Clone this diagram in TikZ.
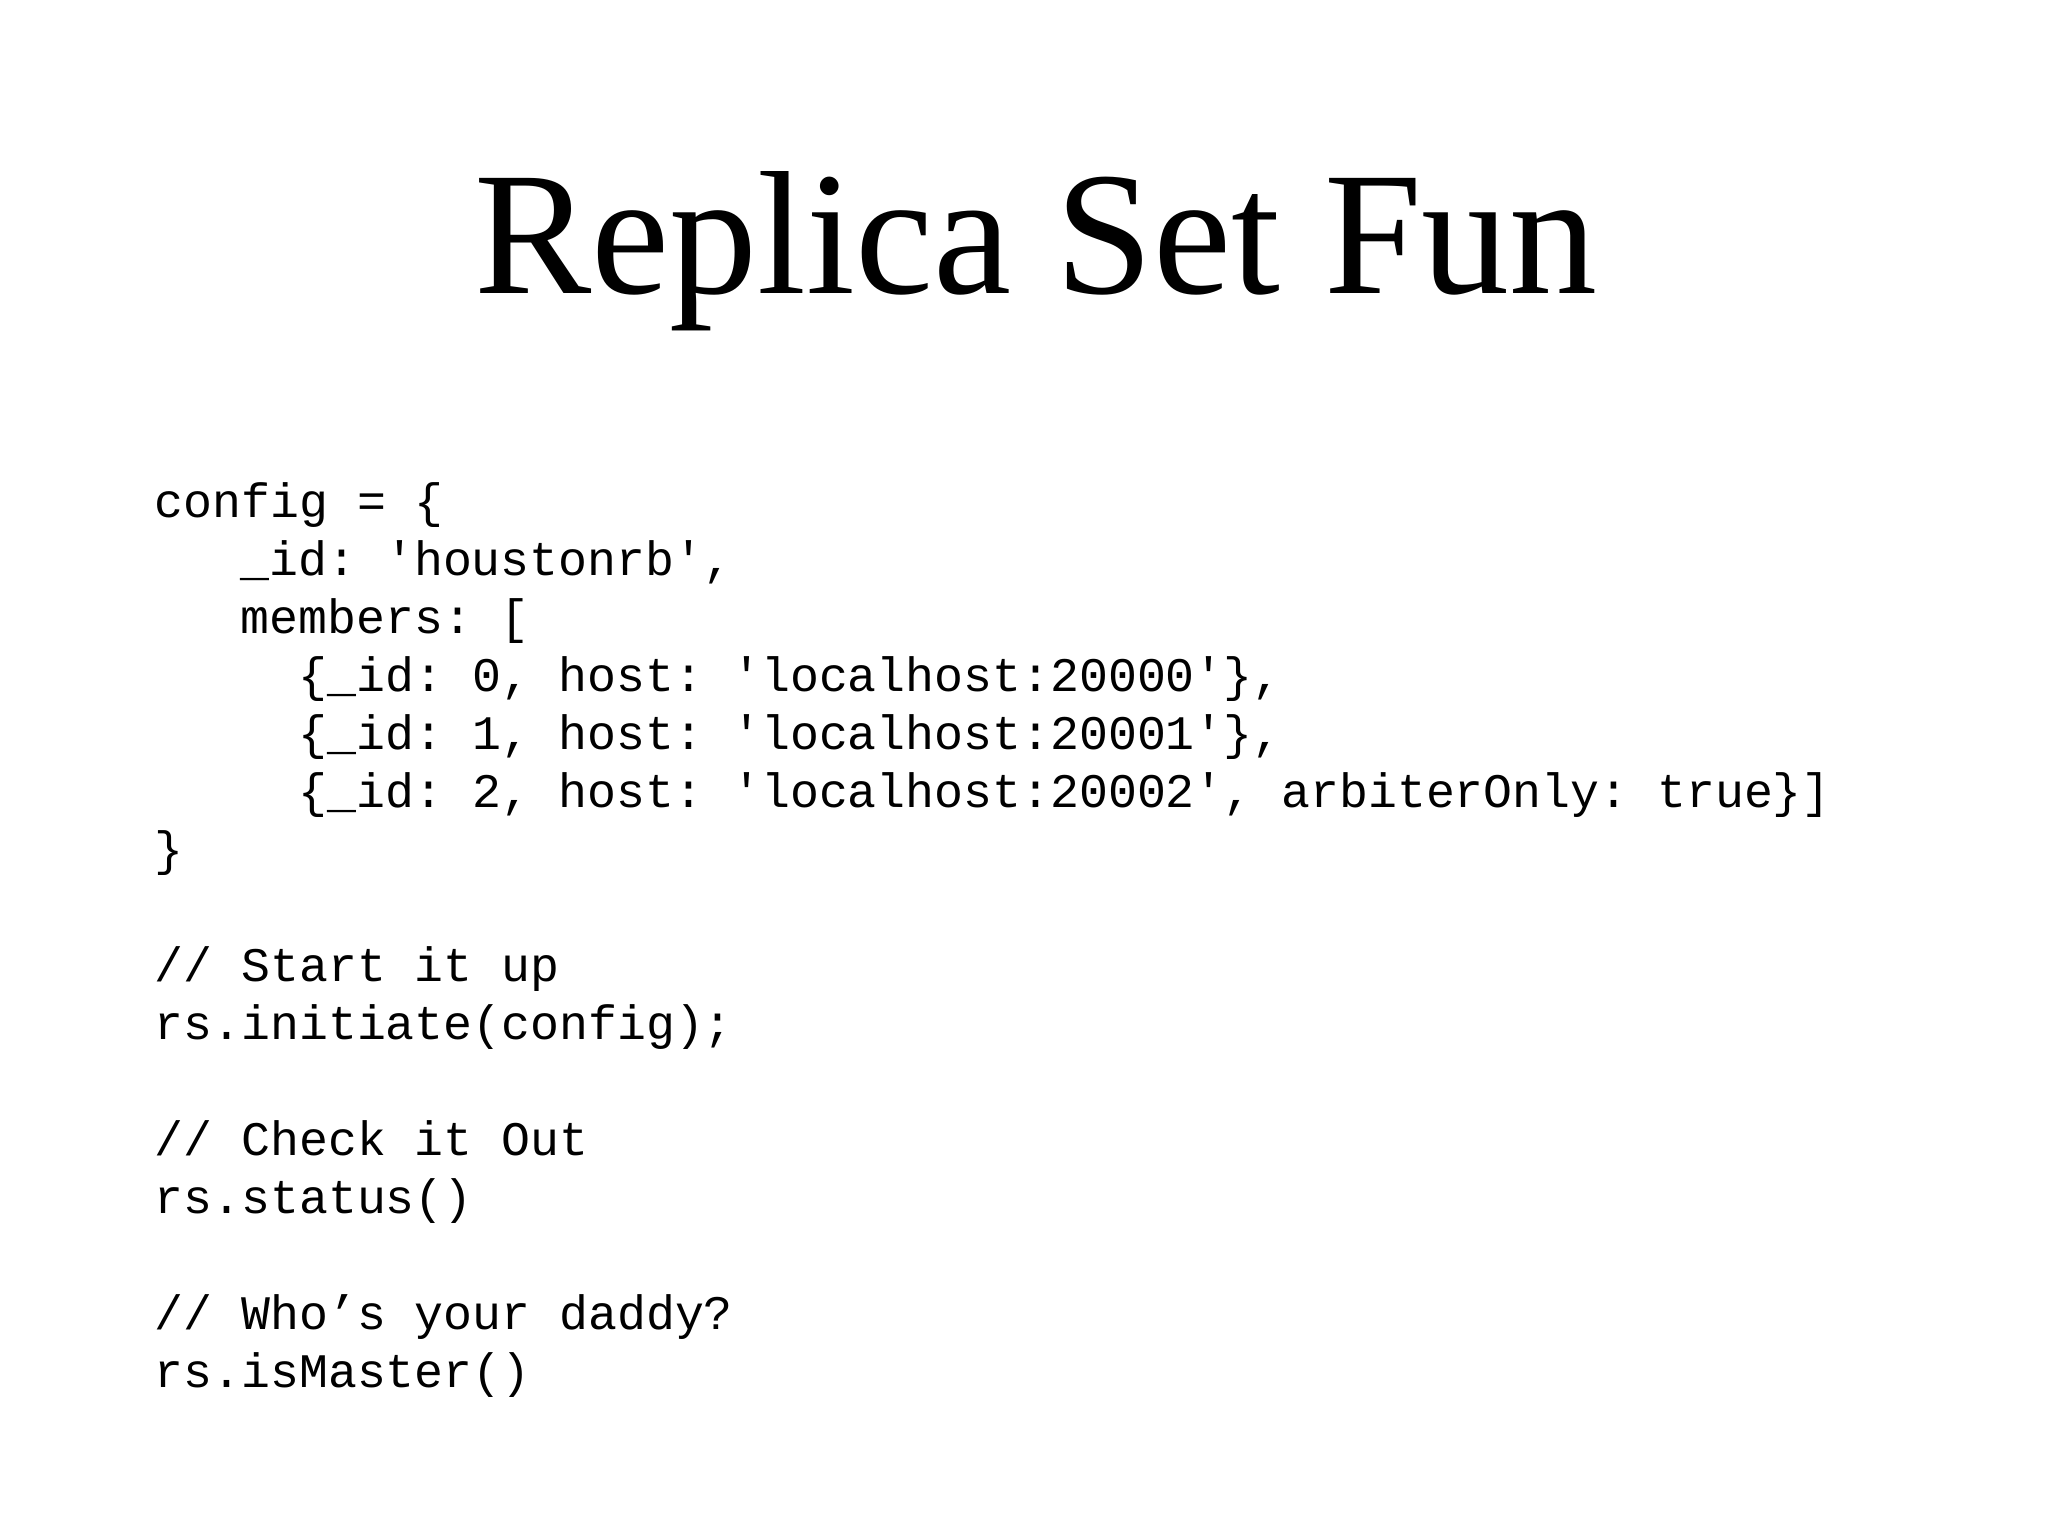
\documentclass[tikz,border=0pt]{standalone}
\usepackage{fontspec}
\setmainfont{Liberation Serif}
\setmonofont{Liberation Mono}
\begin{document}
\begin{tikzpicture}[x=0.01cm,y=-0.01cm,
  codeline/.style={anchor=base west,inner sep=0pt,font=\fontsize{13.7pt}{16pt}\ttfamily}]
\useasboundingbox (0,0) rectangle (2048,1536);
\node[anchor=base,inner sep=0pt,font=\fontsize{50pt}{60pt}\selectfont] (title) at (1036,293) {Replica Set Fun};
\node[codeline] (l1) at (154,517) {config = \{};
\node[codeline] (l2) at (240,575) {\_id: 'houstonrb',};
\node[codeline] (l3) at (240,633) {members: [};
\node[codeline] (l4) at (298,691) {\{\_id: 0, host: 'localhost:20000'\},};
\node[codeline] (l5) at (298,749) {\{\_id: 1, host: 'localhost:20001'\},};
\node[codeline] (l6) at (298,807) {\{\_id: 2, host: 'localhost:20002', arbiterOnly: true\}]};
\node[codeline] (l7) at (154,865) {\}};
\node[codeline] (l9) at (154,981) {// Start it up};
\node[codeline] (l10) at (154,1039) {rs.initiate(config);};
\node[codeline] (l12) at (154,1155) {// Check it Out};
\node[codeline] (l13) at (154,1213) {rs.status()};
\node[codeline] (l15) at (154,1329) {// Who’s your daddy?};
\node[codeline] (l16) at (154,1387) {rs.isMaster()};
\end{tikzpicture}
\end{document}
